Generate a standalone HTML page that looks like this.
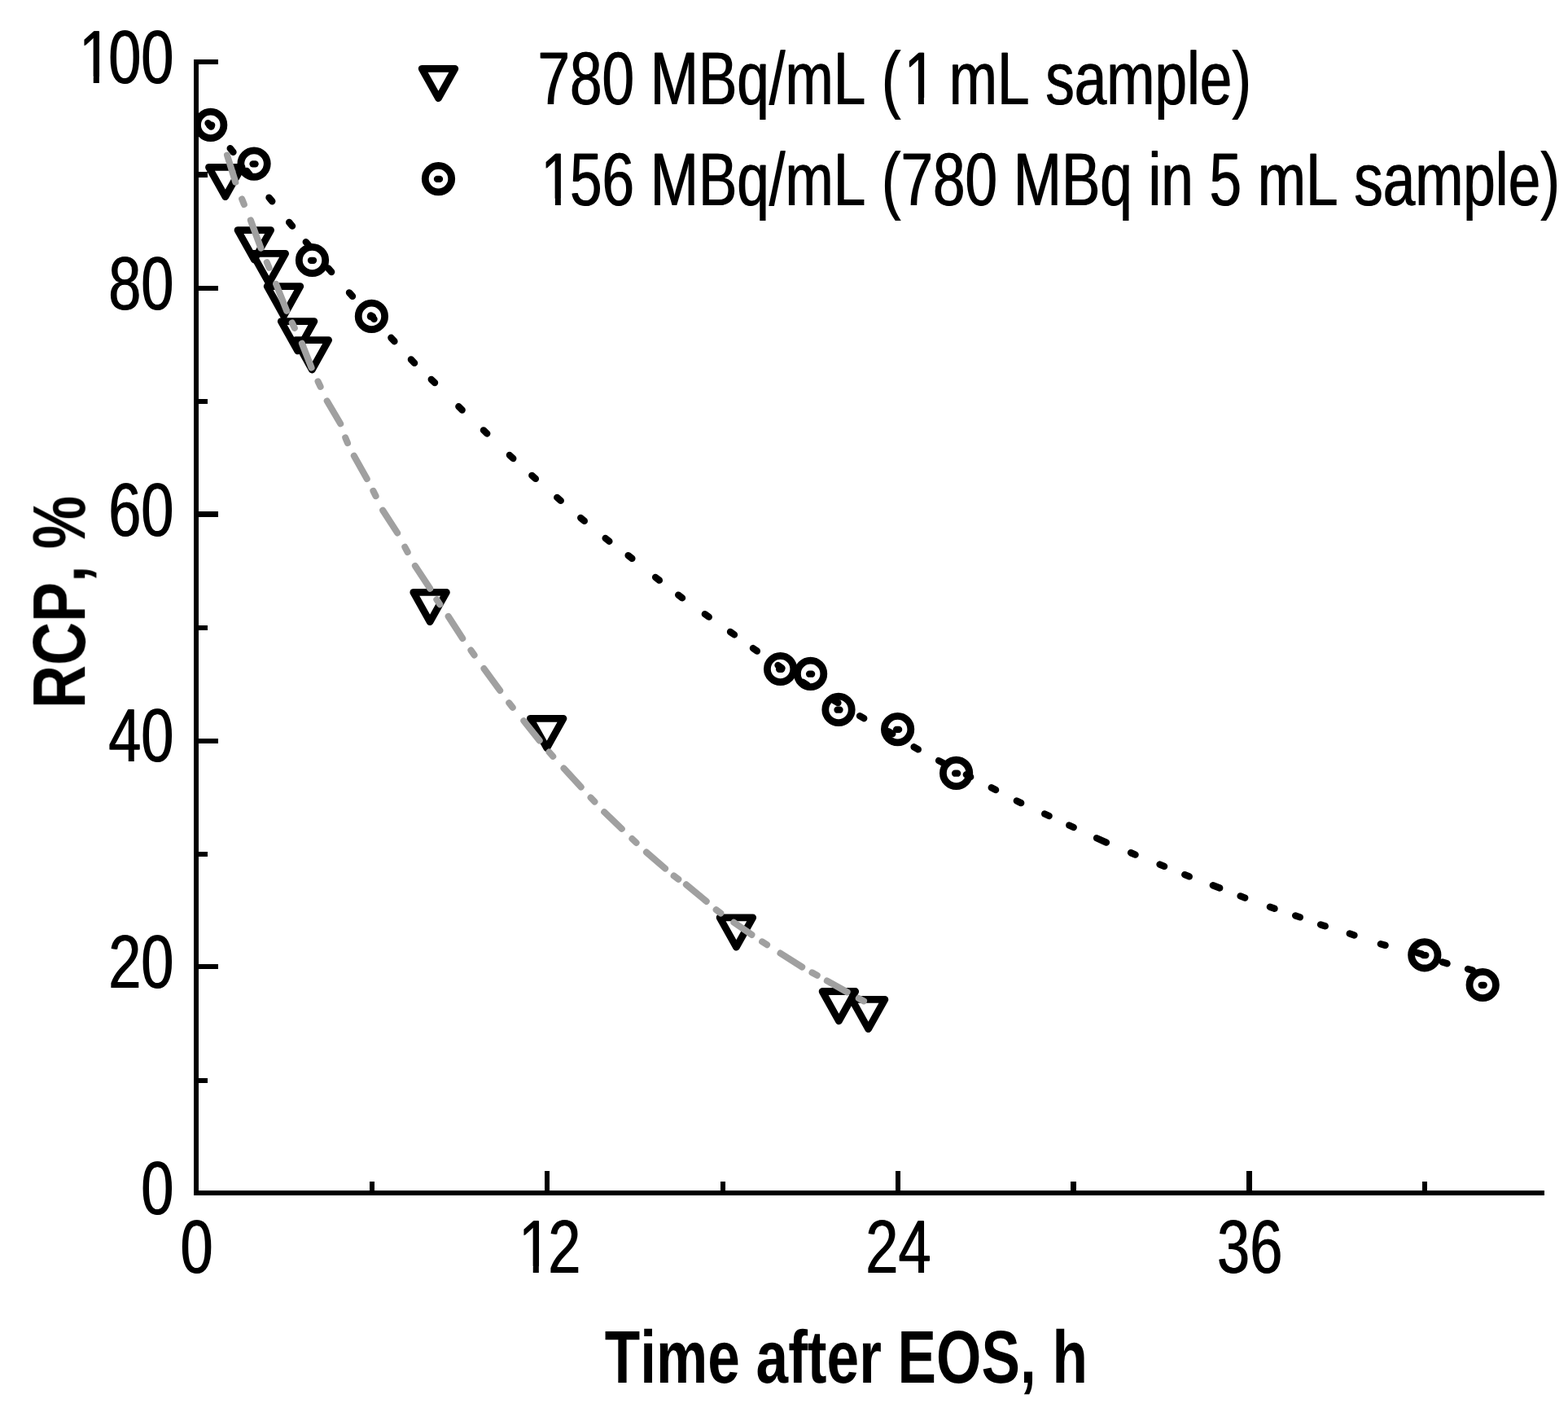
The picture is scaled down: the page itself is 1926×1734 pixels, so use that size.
<!DOCTYPE html>
<html lang="en"><head><meta charset="utf-8">
<style>html,body{margin:0;padding:0;background:#fff}svg{display:block}text{font-family:"Liberation Sans",sans-serif;fill:#000;font-kerning:none;font-variant-ligatures:none;text-rendering:geometricPrecision;white-space:pre}.b{font-weight:bold}</style></head><body>
<svg width="1926" height="1734" viewBox="0 0 1926 1734">
<rect width="1926" height="1734" fill="#fff"/>
<defs><filter id="wx" filterUnits="userSpaceOnUse" x="0" y="0" width="1926" height="1734" color-interpolation-filters="sRGB"><feOffset dx="1" dy="0" result="o"/><feMerge><feMergeNode in="SourceGraphic"/><feMergeNode in="o"/></feMerge></filter></defs>
<g fill="#000" shape-rendering="crispEdges">
<rect x="238" y="73" width="6" height="1395"/>
<rect x="238" y="1462" width="1659" height="6"/>
<rect x="238" y="73" width="30" height="6"/>
<rect x="238" y="211" width="17" height="7"/>
<rect x="238" y="351" width="30" height="6"/>
<rect x="238" y="490" width="17" height="6"/>
<rect x="238" y="628" width="30" height="7"/>
<rect x="238" y="768" width="17" height="6"/>
<rect x="238" y="907" width="30" height="6"/>
<rect x="238" y="1046" width="17" height="6"/>
<rect x="238" y="1184" width="30" height="6"/>
<rect x="238" y="1324" width="17" height="6"/>
<rect x="454" y="1451" width="6" height="17"/>
<rect x="669" y="1438" width="6" height="30"/>
<rect x="885" y="1451" width="6" height="17"/>
<rect x="1100" y="1438" width="6" height="30"/>
<rect x="1315" y="1451" width="7" height="17"/>
<rect x="1531" y="1438" width="7" height="30"/>
<rect x="1747" y="1451" width="6" height="17"/>
</g>
<g filter="url(#wx)">
<text transform="translate(213 1491) scale(0.7795 1)" font-size="92.6" text-anchor="end">0</text>
<text transform="translate(213 1213.2) scale(0.7795 1)" font-size="92.6" text-anchor="end">20</text>
<text transform="translate(213 935.4) scale(0.7795 1)" font-size="92.6" text-anchor="end">40</text>
<text transform="translate(213 657.6) scale(0.7795 1)" font-size="92.6" text-anchor="end">60</text>
<text transform="translate(213 379.8) scale(0.7795 1)" font-size="92.6" text-anchor="end">80</text>
<text transform="translate(92.57 102) scale(0.7795 1)" font-size="92.6" text-anchor="start" dx="5 -5">100</text>
<text transform="translate(241 1563) scale(0.7795 1)" font-size="92.6" text-anchor="middle">0</text>
<text transform="translate(632.56 1563) scale(0.7795 1)" font-size="92.6" text-anchor="start" dx="5 -5">12</text>
<text transform="translate(1103.01 1563) scale(0.7795 1)" font-size="92.6" text-anchor="middle">24</text>
<text transform="translate(1534.71 1563) scale(0.7795 1)" font-size="92.6" text-anchor="middle">36</text>
<text transform="translate(660 128) scale(0.772 1)" font-size="92" text-anchor="start" dx="0 0 0 0 0 0 0 0 0 0 0 0 5 -5">780 MBq/mL (1 mL sample)</text>
<text transform="translate(660 251.8) scale(0.772 1)" font-size="92" text-anchor="start" dx="5 -5">156 MBq/mL (780 MBq in 5 mL sample)</text>
</g>
<g fill="#fff"><rect x="100.46" y="93.88" width="14.3" height="9.62"/><rect x="121.85" y="93.88" width="13.24" height="9.62"/><rect x="640.46" y="1554.88" width="14.3" height="9.62"/><rect x="661.84" y="1554.88" width="13.24" height="9.62"/><rect x="1113.82" y="119.93" width="14.1" height="9.57"/><rect x="1134.9" y="119.93" width="13.05" height="9.57"/><rect x="667.77" y="243.73" width="14.1" height="9.57"/><rect x="688.85" y="243.73" width="13.05" height="9.57"/></g>
<text transform="translate(1039.3 1698) scale(0.7778 1)" font-size="91.5" text-anchor="middle" class="b">Time after EOS, h</text>
<text transform="translate(104.2 739.5) rotate(-90) scale(0.802 1)" font-size="91.5" text-anchor="middle" class="b">RCP, %</text>
<g fill="none" stroke="#000" stroke-width="8.4" stroke-linecap="round">
<path d="M255.53 151.14L259.47 155.66"/>
<path d="M282.72 182.16L286.48 186.84"/>
<path d="M303.04 209.85L306.76 214.55"/>
<path d="M330.49 242.59L334.31 247.21"/>
<path d="M355.18 272.99L359.02 277.61"/>
<path d="M375.75 297.12L379.65 301.68"/>
<path d="M403.25 329.42L407.15 333.98"/>
<path d="M428.99 359.37L433.01 363.83"/>
<path d="M455.46 387.4L459.54 391.8"/>
<path d="M480.37 414.79L484.43 419.21"/>
<path d="M504.91 441.55L509.09 445.85"/>
<path d="M529.76 465.89L534.04 470.11"/>
<path d="M563.35 499.31L567.65 503.49"/>
<path d="M593.93 528.33L598.27 532.47"/>
<path d="M625.91 558.95L630.29 563.05"/>
<path d="M653.36 583.91L657.84 587.89"/>
<path d="M684.23 610.93L688.77 614.87"/>
<path d="M713.2 635.97L717.8 639.83"/>
<path d="M743.64 661.04L748.36 664.76"/>
<path d="M771.63 682.16L776.37 685.84"/>
<path d="M805.14 708.94L809.86 712.66"/>
<path d="M833.19 730.71L838.01 734.29"/>
<path d="M865.85 754.17L870.75 757.63"/>
<path d="M897.05 775.96L901.95 779.44"/>
<path d="M924.94 796.08L929.86 799.52"/>
<path d="M955.52 817.02L960.48 820.38"/>
<path d="M986.15 837.81L991.25 840.99"/>
<path d="M1024.22 860.07L1029.38 863.13"/>
<path d="M1055.99 879.22L1061.21 882.18"/>
<path d="M1091.1 898.21L1096.3 901.19"/>
<path d="M1122.6 917.3L1127.8 920.3"/>
<path d="M1153.05 934.1L1158.35 936.9"/>
<path d="M1186.83 951.33L1192.17 954.07"/>
<path d="M1217.74 967.32L1223.06 970.08"/>
<path d="M1248.81 983.48L1254.19 986.12"/>
<path d="M1283.18 999.54L1288.62 1002.06"/>
<path d="M1313.28 1013.44L1318.72 1015.96"/>
<path d="M1347.06 1029.26L1358.94 1034.54"/>
<path d="M1389.03 1047.25L1394.57 1049.55"/>
<path d="M1424.52 1061.57L1430.08 1063.83"/>
<path d="M1455.21 1074.2L1460.79 1076.4"/>
<path d="M1489.8 1087.29L1498.2 1090.51"/>
<path d="M1523.59 1100.44L1529.21 1102.56"/>
<path d="M1559.87 1113.8L1565.53 1115.8"/>
<path d="M1591.17 1124.42L1596.83 1126.38"/>
<path d="M1622.05 1135.46L1627.75 1137.34"/>
<path d="M1657.74 1146.58L1663.46 1148.42"/>
<path d="M1695.81 1159.29L1701.59 1160.91"/>
<path d="M1740.62 1169.96L1746.38 1171.64"/>
<path d="M1771.84 1181.48L1777.56 1183.32"/>
<path d="M1803 1190.02L1808.8 1191.58"/>
</g>
<g fill="none" stroke="#000" stroke-width="8.8" stroke-linejoin="round">
<path d="M256.5 205.4H297.1L276.8 241.7Z"/>
<path d="M292 282.6H332.6L312.3 318.9Z"/>
<path d="M310 311.4H350.6L330.3 347.7Z"/>
<path d="M328.2 351.7H368.8L348.5 388Z"/>
<path d="M345.3 394.6H385.9L365.6 430.9Z"/>
<path d="M363 417.7H403.6L383.3 454Z"/>
<path d="M507.8 727.4H548.4L528.1 763.7Z"/>
<path d="M651.4 882.3H692L671.7 918.6Z"/>
<path d="M884.1 1126.8H924.7L904.4 1163.1Z"/>
<path d="M1010.1 1217.5H1050.7L1030.4 1253.8Z"/>
<path d="M1046.3 1227.4H1086.9L1066.6 1263.7Z"/>
<circle cx="258.7" cy="153.4" r="16.2"/><path d="M257.2 153.7h3" stroke-width="8.3" stroke-linecap="round"/>
<circle cx="312.05" cy="201.06" r="16.2"/><path d="M310.55 201.36h3" stroke-width="8.3" stroke-linecap="round"/>
<circle cx="383.5" cy="319.5" r="16.2"/><path d="M382 319.8h3" stroke-width="8.3" stroke-linecap="round"/>
<circle cx="456.4" cy="388.4" r="16.2"/><path d="M454.9 388.7h3" stroke-width="8.3" stroke-linecap="round"/>
<circle cx="958.6" cy="821.5" r="16.2"/><path d="M957.1 821.8h3" stroke-width="8.3" stroke-linecap="round"/>
<circle cx="995.6" cy="827.4" r="16.2"/><path d="M994.1 827.7h3" stroke-width="8.3" stroke-linecap="round"/>
<circle cx="1030" cy="871.4" r="16.2"/><path d="M1028.5 871.7h3" stroke-width="8.3" stroke-linecap="round"/>
<circle cx="1102.6" cy="895.6" r="16.2"/><path d="M1101.1 895.9h3" stroke-width="8.3" stroke-linecap="round"/>
<circle cx="1174.6" cy="949.4" r="16.2"/><path d="M1173.1 949.7h3" stroke-width="8.3" stroke-linecap="round"/>
<circle cx="1749.8" cy="1172.8" r="16.2"/><path d="M1748.3 1173.1h3" stroke-width="8.3" stroke-linecap="round"/>
<circle cx="1821.2" cy="1209.5" r="16.2"/><path d="M1819.7 1209.8h3" stroke-width="8.3" stroke-linecap="round"/>
<path d="M518.2 84.3H558.8L538.5 120.6Z"/>
<circle cx="538.5" cy="219.6" r="16.2"/><path d="M537 219.9h3" stroke-width="8.3" stroke-linecap="round"/>
</g>
<g fill="none" stroke="#a0a0a0" stroke-width="8.1" stroke-linecap="round">
<path d="M279.01 190.62L289.29 223.68"/>
<path d="M297.2 244.45L299.8 250.95"/>
<path d="M307.89 270.5L320.41 304.6"/>
<path d="M327.83 322.28L330.57 328.72"/>
<path d="M339.13 348.88L352.17 381.82"/>
<path d="M358.8 396.44L361.8 402.76"/>
<path d="M370.92 421.78L382.58 451.52"/>
<path d="M390.62 468.43L393.58 474.77"/>
<path d="M401.76 492.46L418.14 520.24"/>
<path d="M424.27 537.46L426.93 543.94"/>
<path d="M434.83 559.78L450.67 588.02"/>
<path d="M458.44 602.87L461.56 609.13"/>
<path d="M470.22 626.73L488.08 654.37"/>
<path d="M497.36 671.81L500.64 677.99"/>
<path d="M509.94 694.92L528.26 722.68"/>
<path d="M536.38 736.27L540.22 742.13"/>
<path d="M550.72 756.93L568.18 783.97"/>
<path d="M578.47 798.65L582.53 804.35"/>
<path d="M594.5 821.07L614.1 847.93"/>
<path d="M625.34 863.25L629.66 868.75"/>
<path d="M643.36 885.23L662.64 909.37"/>
<path d="M674.59 923.57L679.21 928.83"/>
<path d="M692.55 943.45L713.65 966.55"/>
<path d="M725.62 979.44L730.38 984.56"/>
<path d="M742.23 997.18L763.77 1017.82"/>
<path d="M776.47 1030.08L781.53 1034.92"/>
<path d="M793.99 1046.61L817.01 1066.49"/>
<path d="M827.71 1075.58L833.29 1079.82"/>
<path d="M842.91 1086.38L867.69 1106.92"/>
<path d="M879.72 1117.27L885.28 1121.53"/>
<path d="M901.4 1132.77L923.4 1147.93"/>
<path d="M936.16 1156.41L942.04 1160.19"/>
<path d="M958.54 1170.61L985.16 1187.49"/>
<path d="M997.53 1194.41L1003.67 1197.79"/>
<path d="M1015.88 1204.53L1040.62 1218.37"/>
<path d="M1054.82 1226.04L1060.98 1229.36"/>
</g>
</svg></body></html>
